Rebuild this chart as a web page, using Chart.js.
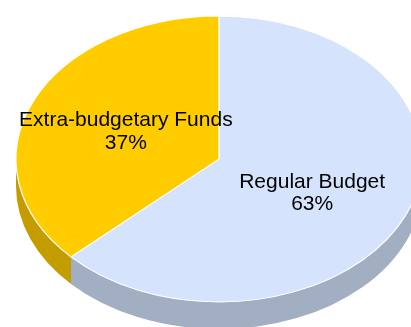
<!DOCTYPE html>
<html>
<head>
<meta charset="utf-8">
<script src="https://cdn.jsdelivr.net/npm/chart.js@4.4.1/dist/chart.umd.min.js"></script>
<style>
  html, body { margin: 0; padding: 0; background: #fff; overflow: hidden; }
</style>
</head>
<body>
<canvas id="pieChart" width="411" height="327"></canvas>
<script>
const categories = ['Regular Budget', 'Extra-budgetary Funds'];
const shares = [63, 37];

// tilted pie geometry
const CX = 219, CY = 159, RX = 203, RY = 143, DEPTH = 27;
const sideColors = ['#A2AEC1', '#C49C00'];

// parts of [a, b] that face the viewer (angles 0..PI, y down)
function frontSpans(a, b) {
  const spans = [];
  for (let k = -1; k <= 1; k++) {
    const lo = Math.max(a, 2 * Math.PI * k), hi = Math.min(b, 2 * Math.PI * k + Math.PI);
    if (hi > lo) spans.push([lo, hi]);
  }
  return spans;
}

const tilt = {
  id: 'tilt',
  beforeDatasetsDraw(chart) {
    const ctx = chart.ctx;
    const arcs = chart.getDatasetMeta(0).data;
    // side wall of each slice
    arcs.forEach((arc, i) => {
      frontSpans(arc.startAngle, arc.endAngle).forEach(([lo, hi]) => {
        ctx.beginPath();
        ctx.ellipse(CX, CY + DEPTH, RX, RY, 0, lo, hi);
        ctx.ellipse(CX, CY, RX, RY, 0, hi, lo, true);
        ctx.closePath();
        ctx.fillStyle = sideColors[i];
        ctx.fill();
      });
    });
    // squash the top face into an ellipse
    const { x, y, outerRadius } = arcs[0];
    ctx.save();
    ctx.translate(CX, CY);
    ctx.scale(RX / outerRadius, RY / outerRadius);
    ctx.translate(-x, -y);
  },
  afterDatasetsDraw(chart) {
    chart.ctx.restore();
  },
  afterDraw(chart) {
    const ctx = chart.ctx;
    const arcs = chart.getDatasetMeta(0).data;
    const total = shares.reduce((s, v) => s + v, 0);
    ctx.save();
    ctx.font = '21px "Liberation Sans", Arial, sans-serif';
    ctx.fillStyle = '#000';
    ctx.textAlign = 'center';
    ctx.textBaseline = 'alphabetic';
    arcs.forEach((arc, i) => {
      const mid = (arc.startAngle + arc.endAngle) / 2;
      const lx = CX + RX * 0.5 * Math.cos(mid);
      const ly = CY + 1 + RY * 0.54 * Math.sin(mid);
      ctx.fillText(categories[i], lx, ly - 3);
      ctx.fillText(Math.round(shares[i] / total * 100) + '%', lx, ly + 19.5);
    });
    ctx.restore();
  }
};

new Chart(document.getElementById('pieChart').getContext('2d'), {
  type: 'pie',
  data: {
    labels: categories,
    datasets: [{
      data: shares,
      backgroundColor: ['#D5E3FC', '#FFCC00'],
      borderColor: '#FFFFFF',
      borderWidth: 1,
      clip: false
    }]
  },
  options: {
    responsive: false,
    animation: false,
    rotation: 0,
    layout: { padding: 0 },
    plugins: { legend: { display: false }, tooltip: { enabled: false } }
  },
  plugins: [tilt]
});
</script>
</body>
</html>
